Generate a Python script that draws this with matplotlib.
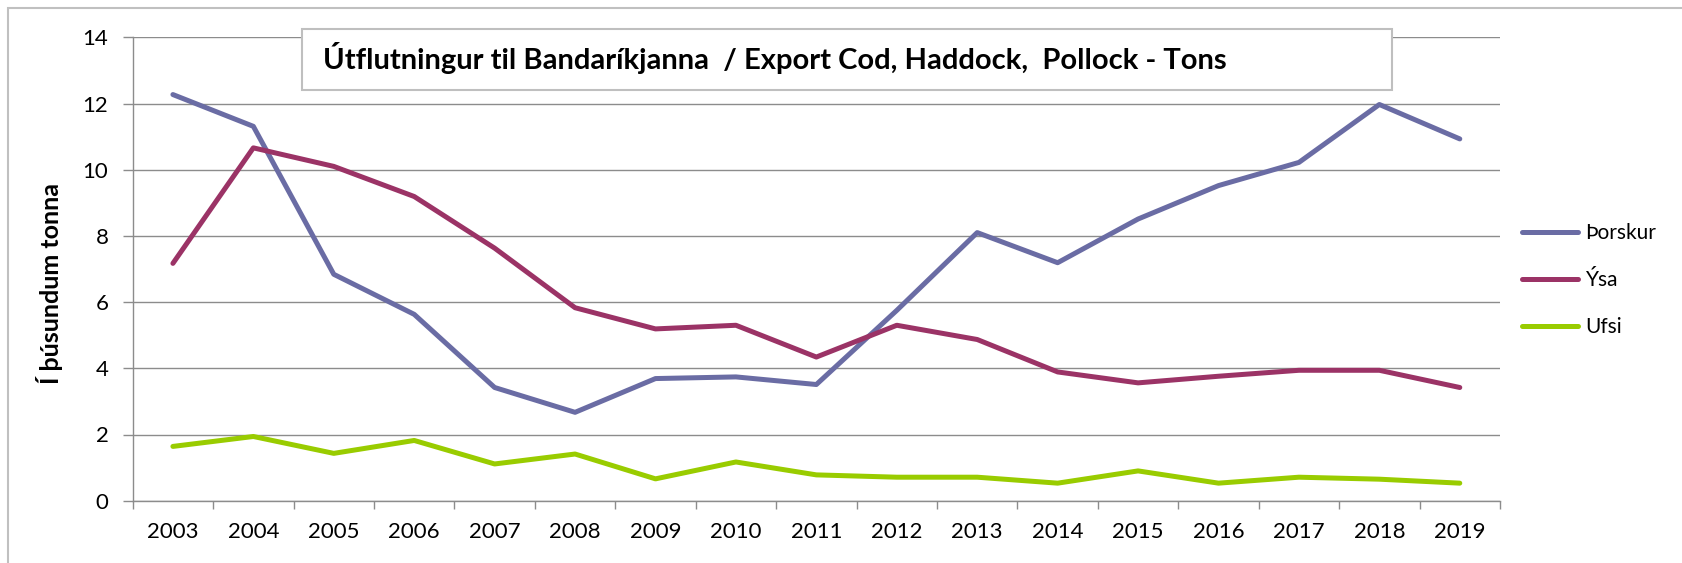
import numpy as np
import matplotlib.pyplot as plt
from matplotlib.patches import Rectangle

plt.rcParams['font.family'] = ['Lato', 'DejaVu Sans']

# Gögn (þúsundir tonna)
years   = [str(y) for y in range(2003, 2020)]
thorskur = [12.27, 11.31, 6.84, 5.63, 3.42, 2.67, 3.69, 3.74, 3.51, 5.75,
            8.10, 7.19, 8.51, 9.52, 10.22, 11.97, 10.93]
ysa     = [7.17, 10.66, 10.10, 9.19, 7.63, 5.83, 5.19, 5.30, 4.34, 5.30,
           4.87, 3.89, 3.56, 3.76, 3.94, 3.94, 3.42]
ufsi    = [1.64, 1.94, 1.43, 1.82, 1.11, 1.41, 0.66, 1.17, 0.78, 0.71,
           0.71, 0.53, 0.90, 0.53, 0.71, 0.65, 0.53]
yticks  = [0, 2, 4, 6, 8, 10, 12, 14]

W, H = 1683, 563
fig = plt.figure(figsize=(W/100, H/100), dpi=100)
ax = fig.add_axes([132.7/W, (H-500.7)/H, (1500-132.7)/W, (500.7-37.3)/H])

x = np.arange(len(years))
lw = 3.6
ax.plot(x, thorskur, color='#6A6CA4', lw=lw, solid_joinstyle='round', solid_capstyle='round', label='Þorskur', zorder=3)
ax.plot(x, ysa, color='#9B3366', lw=lw, solid_joinstyle='round', solid_capstyle='round', label='Ýsa', zorder=3)
ax.plot(x, ufsi, color='#99CC00', lw=lw, solid_joinstyle='round', solid_capstyle='round', label='Ufsi', zorder=3)

ax.set_xlim(-0.5, len(years)-0.5)
ax.set_ylim(0, 14)
ax.set_yticks(yticks)
ax.set_xticks(x)
ax.set_xticklabels(years)
ax.set_xticks(np.arange(len(years)+1) - 0.5, minor=True)
ax.tick_params(axis='x', which='major', length=0, pad=15, labelsize=16)
ax.tick_params(axis='x', which='minor', length=6, width=1, color='#8C8C8C', direction='out')
ax.tick_params(axis='y', length=7, width=1, color='#8C8C8C', pad=10.5, labelsize=16)
ax.grid(axis='y', color='#8C8C8C', lw=1)
ax.set_axisbelow(True)
for s in ['top', 'right']:
    ax.spines[s].set_visible(False)
for s in ['left', 'bottom']:
    ax.spines[s].set_color('#8C8C8C')
    ax.spines[s].set_linewidth(1)

fig.text(50/W, 1-284/H, 'Í þúsundum tonna', rotation=90, ha='center', va='center',
         fontsize=18, fontweight='bold')

# titilkassi
fig.patches.append(Rectangle((302/W, 1-90/H), (1392-302)/W, (90-29)/H, transform=fig.transFigure,
                             facecolor='white', edgecolor='#BFBFBF', lw=1.5, zorder=5))
fig.text(323/W, 1-58/H, 'Útflutningur til Bandaríkjanna  / Export Cod, Haddock,  Pollock - Tons',
         ha='left', va='center', fontsize=21, fontweight='bold', zorder=6)

# rammi
fig.patches.append(Rectangle((8/W, -0.05), 1.1, 1-8/H+0.05, transform=fig.transFigure,
                             facecolor='none', edgecolor='#C0C0C0', lw=1.5, zorder=0))

fig.legend(loc='center left', bbox_to_anchor=(1522/W, 1-280/H), frameon=False, fontsize=15,
           handlelength=2.7, handletextpad=0.35, labelspacing=1.3, borderpad=0, borderaxespad=0)

plt.savefig('out.png', dpi=100)
